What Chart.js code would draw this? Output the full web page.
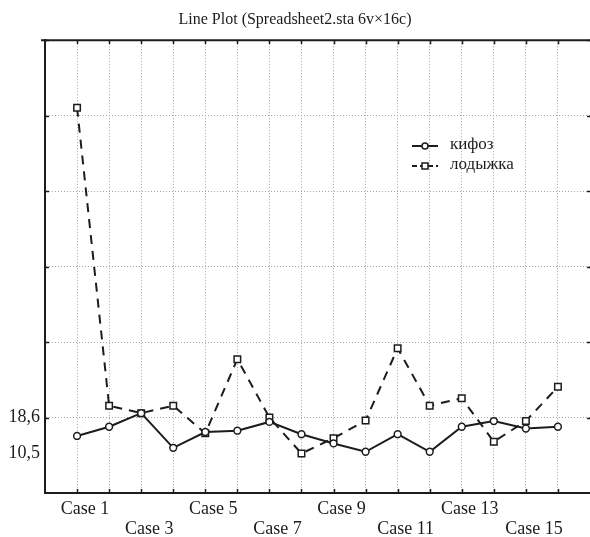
<!DOCTYPE html>
<html>
<head>
<meta charset="utf-8">
<script src="https://cdn.jsdelivr.net/npm/chart.js@4.4.1/dist/chart.umd.min.js"></script>
<style>
  html, body { margin: 0; padding: 0; background: #fff; }
  #wrap { width: 590px; height: 537px; }
</style>
</head>
<body>
<div id="wrap"><canvas id="lineChart"></canvas></div>
<script>
// --- Data ---
const caseLabels = ['Case 1', 'Case 2', 'Case 3', 'Case 4', 'Case 5', 'Case 6', 'Case 7', 'Case 8',
                    'Case 9', 'Case 10', 'Case 11', 'Case 12', 'Case 13', 'Case 14', 'Case 15', 'Case 16'];
const kyphosis = [14.4, 16.5, 19.6, 11.7, 15.3, 15.6, 17.6, 14.8, 12.7, 10.8, 14.8, 10.8, 16.5, 17.8, 16.1, 16.5];
const ankle = [89.2, 21.3, 19.6, 21.3, 15.0, 31.9, 18.6, 10.4, 13.9, 17.9, 34.4, 21.3, 23.0, 13.1, 17.8, 25.6];
const yTickValues = [1.4, 10.5, 18.6, 35.8, 53.0, 70.2, 87.4, 104.6];
const yTickLabels = ['', '10,5', '18,6', '', '', '', '', ''];
const seriesNames = ['кифоз', 'лодыжка'];

const INK = '#1c1c1c';
const GRID = '#a4a4a4';
const FONT = '"Liberation Serif", "DejaVu Serif", serif';

// points on a numeric x scale so Case 1 sits one full step from the axis
const toPoints = vals => vals.map((v, i) => ({ x: i + 1, y: v }));

// inner tick marks, top frame line and the in-plot legend
const framePlugin = {
  id: 'frame',
  afterDatasetsDraw(chart) {
    const { ctx, chartArea: a, scales: { x, y } } = chart;
    ctx.save();
    ctx.strokeStyle = INK;
    ctx.lineWidth = 2;
    ctx.beginPath();
    ctx.moveTo(a.left - 4, a.top);
    ctx.lineTo(a.right, a.top);
    ctx.stroke();

    ctx.lineWidth = 1.5;
    ctx.beginPath();
    caseLabels.forEach((c, i) => {
      const px = Math.round(x.getPixelForValue(i + 1)) + 0.5;
      ctx.moveTo(px, a.top); ctx.lineTo(px, a.top + 4);
      ctx.moveTo(px, a.bottom); ctx.lineTo(px, a.bottom - 4);
    });
    yTickValues.forEach((v, i) => {
      if (i < 2) return;
      const py = Math.round(y.getPixelForValue(v)) + 0.5;
      ctx.moveTo(a.left, py); ctx.lineTo(a.left + 4, py);
      ctx.moveTo(a.right, py); ctx.lineTo(a.right - 3, py);
    });
    ctx.stroke();

    // legend
    const lx = 412, ly = 146, gap = 20;
    chart.data.datasets.forEach((ds, i) => {
      const yy = ly + i * gap;
      ctx.setLineDash(i === 0 ? [] : [5, 3]);
      ctx.lineWidth = 2;
      ctx.beginPath();
      ctx.moveTo(lx, yy); ctx.lineTo(lx + 26, yy);
      ctx.stroke();
      ctx.setLineDash([]);
      ctx.fillStyle = '#fff';
      ctx.lineWidth = 1.5;
      ctx.beginPath();
      if (i === 0) ctx.arc(lx + 13, yy, 3, 0, Math.PI * 2);
      else ctx.rect(lx + 10, yy - 3, 6, 6);
      ctx.fill(); ctx.stroke();
      ctx.fillStyle = INK;
      ctx.font = '17px ' + FONT;
      ctx.textBaseline = 'middle';
      ctx.fillText(ds.label, lx + 38, yy - 1);
    });
    ctx.restore();
  }
};

new Chart(document.getElementById('lineChart'), {
  type: 'line',
  data: {
    datasets: [
      {
        label: seriesNames[0],
        data: toPoints(kyphosis),
        borderColor: INK,
        borderWidth: 2,
        pointStyle: 'circle',
        pointRadius: 3.4,
        pointBorderWidth: 1.5,
        pointBackgroundColor: '#fff',
        pointBorderColor: INK,
        tension: 0
      },
      {
        label: seriesNames[1],
        data: toPoints(ankle),
        borderColor: INK,
        borderWidth: 2,
        borderDash: [9, 7],
        pointStyle: 'rect',
        pointRadius: 4.6,
        pointBorderWidth: 1.5,
        pointBackgroundColor: '#fff',
        pointBorderColor: INK,
        tension: 0
      }
    ]
  },
  options: {
    responsive: true,
    maintainAspectRatio: false,
    animation: false,
    layout: { padding: 0, autoPadding: false },
    plugins: {
      legend: { display: false },
      tooltip: { enabled: false },
      title: {
        display: true,
        text: 'Line Plot (Spreadsheet2.sta 6v×16c)',
        color: INK,
        font: { family: FONT, size: 16, weight: 'normal' },
        padding: { top: 10, bottom: 11 }
      }
    },
    scales: {
      x: {
        type: 'linear',
        min: 0,
        max: 17,
        afterBuildTicks: scale => {
          scale.ticks = caseLabels.map((c, i) => ({ value: i + 1 }));
        },
        afterFit: scale => {
          scale.height = 44;
          scale.paddingLeft = 0;
          scale.paddingRight = 0;
        },
        ticks: {
          autoSkip: false,
          maxRotation: 0,
          padding: 6,
          labelOffset: 8,
          color: INK,
          font: { family: FONT, size: 18, lineHeight: 1.12 },
          callback: (value) => {
            const i = Math.round(value) - 1;
            if (i % 2 !== 0) return '';
            return (i / 2) % 2 === 0 ? [caseLabels[i]] : ['', caseLabels[i]];
          }
        },
        grid: { drawTicks: false, color: GRID, lineWidth: 1 },
        border: { display: true, color: INK, width: 2, dash: [1, 2] }
      },
      y: {
        type: 'linear',
        min: yTickValues[0],
        max: yTickValues[yTickValues.length - 1],
        afterBuildTicks: scale => {
          scale.ticks = yTickValues.map(v => ({ value: v }));
        },
        afterFit: scale => { scale.width = 45; },
        ticks: {
          padding: 5,
          color: INK,
          font: { family: FONT, size: 18 },
          callback: (value, idx) => yTickLabels[idx]
        },
        grid: {
          drawTicks: false,
          color: ctx => (ctx.index < 2 ? 'rgba(0,0,0,0)' : GRID),
          lineWidth: 1
        },
        border: { display: true, color: INK, width: 2, dash: [1, 2] }
      }
    }
  },
  plugins: [framePlugin]
});
</script>
</body>
</html>
